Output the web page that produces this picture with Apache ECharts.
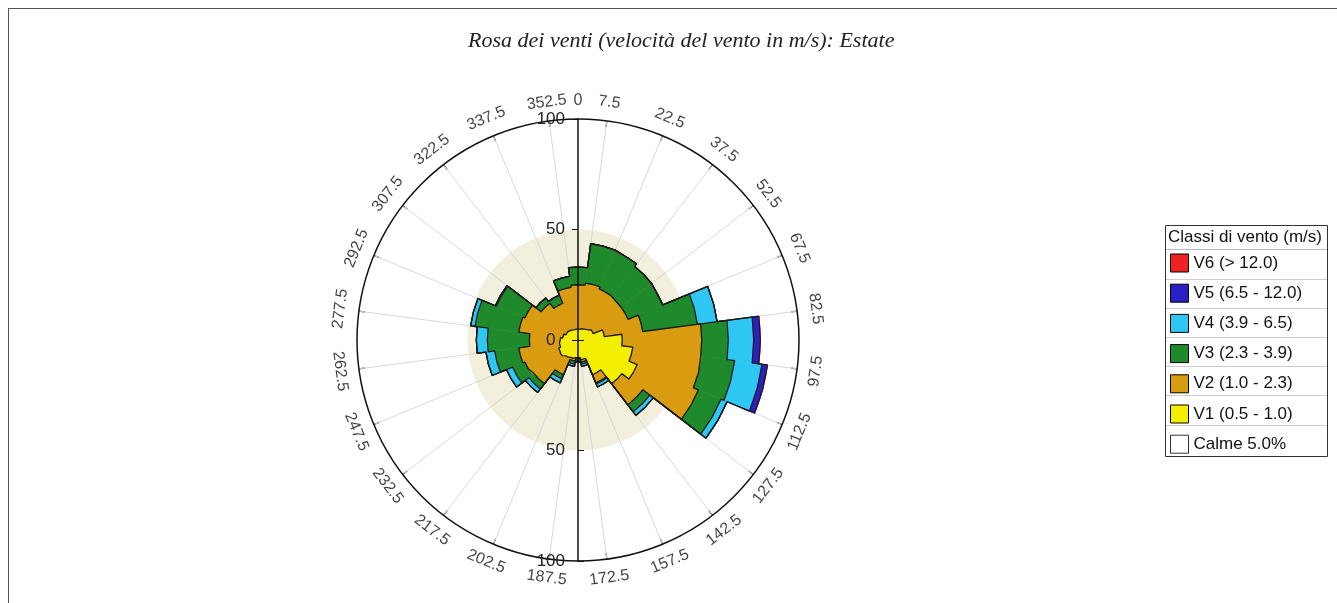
<!DOCTYPE html>
<html>
<head>
<meta charset="utf-8">
<title>Rosa dei venti - Estate</title>
<script src="https://cdn.jsdelivr.net/npm/echarts@6/dist/echarts.min.js"></script>
<style>
  html, body { margin: 0; padding: 0; background: #fff; }
  #main { position: absolute; left: 0; top: 0; width: 1337px; height: 603px; }
  #frame { position: absolute; left: 8px; top: 8px; width: 1340px; height: 640px;
           border-left: 1px solid #555; border-top: 1px solid #555; pointer-events: none; }
</style>
</head>
<body>
<div id="main"></div>
<div id="frame"></div>
<script>
// centro dei settori di direzione (gradi)
const sectors = [0, 15, 30, 45, 60, 75, 90, 105, 120, 135, 150, 165,
                 180, 195, 210, 225, 240, 255, 270, 285, 300, 315, 330, 345];
// etichette sull'asse angolare (confini dei settori)
const angleLabels = [0, 7.5, 22.5, 37.5, 52.5, 67.5, 82.5, 97.5, 112.5, 127.5, 142.5, 157.5,
                     172.5, 187.5, 202.5, 217.5, 232.5, 247.5, 262.5, 277.5, 292.5, 307.5, 322.5, 337.5, 352.5];
const radiusTicks = [0, 50, 100];

// classi di vento, valori per settore
const v1 = [5, 5.5, 6, 6.5, 7.5, 12, 20, 25, 29, 25, 17, 9, 8, 8.5, 9, 10, 9.5, 8.5, 8, 7, 6, 5.5, 5, 5];
const v2 = [20, 20.5, 19, 18, 17, 17.5, 36, 31.5, 30, 12, 4, 1, 0.5, 1, 8, 15, 16.5, 18.5, 14, 20, 20, 15.5, 13, 19];
const v3 = [8, 18, 18.5, 17.5, 17, 25, 12, 15, 11, 4, 0.5, 1, 1, 1.5, 2, 3, 6, 11, 19, 20, 14, 3, 4, 5];
const v4 = [0, 0, 0, 0, 0, 9, 11.5, 12.5, 3, 2, 1.5, 1, 0.5, 1, 2, 2, 3, 4, 5, 2, 0.5, 0, 0, 0];
const v5 = [0, 0, 0, 0, 0, 0, 3, 2.5, 0, 0, 0, 0, 0, 0, 0, 0, 0, 0, 0, 0, 0, 0, 0, 0];
const v6 = [0, 0, 0, 0, 0, 0, 0, 0, 0, 0, 0, 0, 0, 0, 0, 0, 0, 0, 0, 0, 0, 0, 0, 0];

const classNames = ['V1 (0.5 - 1.0)', 'V2 (1.0 - 2.3)', 'V3 (2.3 - 3.9)', 'V4 (3.9 - 6.5)', 'V5 (6.5 - 12.0)', 'V6 (> 12.0)'];
const calmName = 'Calme 5.0%';
const classColors = ['#f4ee00', '#d99b0f', '#1e8a2c', '#2ec6f3', '#2a1fc4', '#ee2222'];
const classes = [v1, v2, v3, v4, v5, v6];

const CENTER = [578, 340];
const RADIUS = 221;
const HALF = 7.5;          // mezza ampiezza del settore
const LABEL_R = 108.5;     // raggio delle etichette angolari
const sans = 'Liberation Sans, Arial, sans-serif';

let myChart = echarts.init(document.getElementById('main'));

function cumulative(k) {
    return sectors.map((s, i) => {
        let t = 0;
        for (let j = 0; j <= k; j++) t += classes[j][i];
        return t;
    });
}

function outline(levels) {
    const pts = [];
    sectors.forEach((s, i) => {
        pts.push([levels[i], s - HALF], [levels[i], s], [levels[i], s + HALF]);
    });
    pts.push([levels[0], sectors[sectors.length - 1] + HALF]);
    return pts;
}

function tangent(a) {
    if (a <= 90) return -a;
    if (a < 270) return 180 - a;
    return 360 - a;
}

const hiddenAngle = (start) => ({
    startAngle: start,
    axisLine: {show: false}, axisTick: {show: false},
    axisLabel: {show: false}, splitLine: {show: false}
});

const series = [];
classes.forEach((arr, k) => {
    series.push({
        name: classNames[k],
        type: 'bar',
        coordinateSystem: 'polar',
        polarIndex: 1,
        stack: 'rosa',
        data: arr,
        barCategoryGap: '0%',
        itemStyle: {color: classColors[k], borderColor: classColors[k], borderWidth: 0.6},
        z: 2
    });
});
series.push({
    name: calmName, type: 'scatter', coordinateSystem: 'polar', polarIndex: 0,
    data: [], itemStyle: {color: '#fff'}
});
for (let k = 0; k < 5; k++) {
    series.push({
        type: 'line', coordinateSystem: 'polar', polarIndex: 0,
        data: outline(cumulative(k)),
        symbol: 'none', smooth: false, clip: false, silent: true,
        lineStyle: {color: '#1a1a1a', width: 1.3},
        z: 3
    });
}
series.push({
    type: 'scatter', coordinateSystem: 'polar', polarIndex: 0,
    symbolSize: 1, silent: true, clip: false,
    itemStyle: {color: 'rgba(0,0,0,0)'},
    data: angleLabels.map(a => ({value: [LABEL_R, a], label: {rotate: tangent(a)}})),
    label: {
        show: true, position: 'inside', align: 'center', verticalAlign: 'middle',
        formatter: p => String(p.value[1]),
        color: '#111', fontSize: 16, fontFamily: sans
    },
    z: 4
});

const legendRows = [279.5, 308.5, 337.5, 366.5, 395.5, 425.5];

var option = {
    animation: false,
    title: {
        text: 'Rosa dei venti (velocità del vento in m/s): Estate',
        left: 463, top: 25,
        textStyle: {fontFamily: 'Liberation Serif, Times New Roman, serif', fontStyle: 'italic',
                    fontWeight: 'normal', fontSize: 22, color: '#222'}
    },
    legend: {
        orient: 'vertical',
        left: 1170, top: 253.5, padding: 0,
        itemWidth: 18, itemHeight: 18, itemGap: 11.2,
        icon: 'rect',
        data: [classNames[5], classNames[4], classNames[3], classNames[2], classNames[1], classNames[0], calmName],
        itemStyle: {borderColor: '#000', borderWidth: 1},
        textStyle: {fontSize: 17, fontFamily: sans, color: '#111'},
        selectedMode: false
    },
    graphic: [
        {type: 'rect', z: 1, shape: {x: 1165.5, y: 225.5, width: 162, height: 231},
         style: {fill: '#fff', stroke: '#333', lineWidth: 1}},
        {type: 'line', z: 1, shape: {x1: 1166, y1: 249.5, x2: 1327, y2: 249.5}, style: {stroke: '#bbb'}},
    ].concat(legendRows.map(y => ({
        type: 'line', z: 1, shape: {x1: 1166, y1: y, x2: 1327, y2: y}, style: {stroke: '#ccc'}
    }))).concat([
        {type: 'text', z: 2, x: 1168, y: 237,
         style: {text: 'Classi di vento (m/s)', fontSize: 17, fontFamily: sans, fill: '#111',
                 verticalAlign: 'middle'}}
    ]),
    polar: [
        {center: CENTER, radius: RADIUS},
        {center: CENTER, radius: RADIUS},
        {center: CENTER, radius: RADIUS},
        {center: CENTER, radius: RADIUS}
    ],
    angleAxis: [
        {
            polarIndex: 0, type: 'value', min: 7.5, max: 367.5, interval: 15,
            startAngle: 82.5, clockwise: true, z: 1,
            axisLine: {lineStyle: {color: '#111', width: 1.5}},
            axisTick: {show: true, inside: true, length: 6, lineStyle: {color: '#111', width: 1.2}},
            axisLabel: {show: false},
            splitLine: {show: true, lineStyle: {color: '#d8d8d8', width: 1}}
        },
        Object.assign({polarIndex: 1, type: 'category', data: sectors.map(String), clockwise: true}, hiddenAngle(97.5)),
        Object.assign({polarIndex: 2, type: 'value', min: 0, max: 360}, hiddenAngle(90)),
        Object.assign({polarIndex: 3, type: 'value', min: 0, max: 360}, hiddenAngle(270))
    ],
    radiusAxis: [
        {
            polarIndex: 0, type: 'value', min: 0, max: 100, interval: 50, z: 0,
            axisLine: {show: false}, axisTick: {show: false}, axisLabel: {show: false},
            splitLine: {show: false},
            splitArea: {show: true, areaStyle: {color: ['#f2efdc', 'rgba(255,255,255,0)']}}
        },
        {
            polarIndex: 1, type: 'value', min: 0, max: 100,
            axisLine: {show: false}, axisTick: {show: false}, axisLabel: {show: false},
            splitLine: {show: false}
        },
        {
            polarIndex: 2, type: 'value', min: 0, max: 100, interval: 50, z: 5,
            axisLine: {lineStyle: {color: '#111', width: 1.5}},
            axisTick: {show: true, length: 6, lineStyle: {color: '#111'}},
            axisLabel: {color: '#222', fontSize: 17, fontFamily: sans, margin: 13,
                        formatter: v => radiusTicks.indexOf(v) < 0 ? '' : (v === 0 ? '0  ' : String(v))},
            splitLine: {show: false}
        },
        {
            polarIndex: 3, type: 'value', min: 0, max: 100, interval: 50, z: 5,
            axisLine: {lineStyle: {color: '#111', width: 1.5}},
            axisTick: {show: true, length: 6, lineStyle: {color: '#111'}},
            axisLabel: {color: '#222', fontSize: 17, fontFamily: sans, margin: -13, align: 'right',
                        formatter: v => v === 0 ? '' : String(v)},
            splitLine: {show: false}
        }
    ],
    series: series
};

myChart.setOption(option);
</script>
</body>
</html>
